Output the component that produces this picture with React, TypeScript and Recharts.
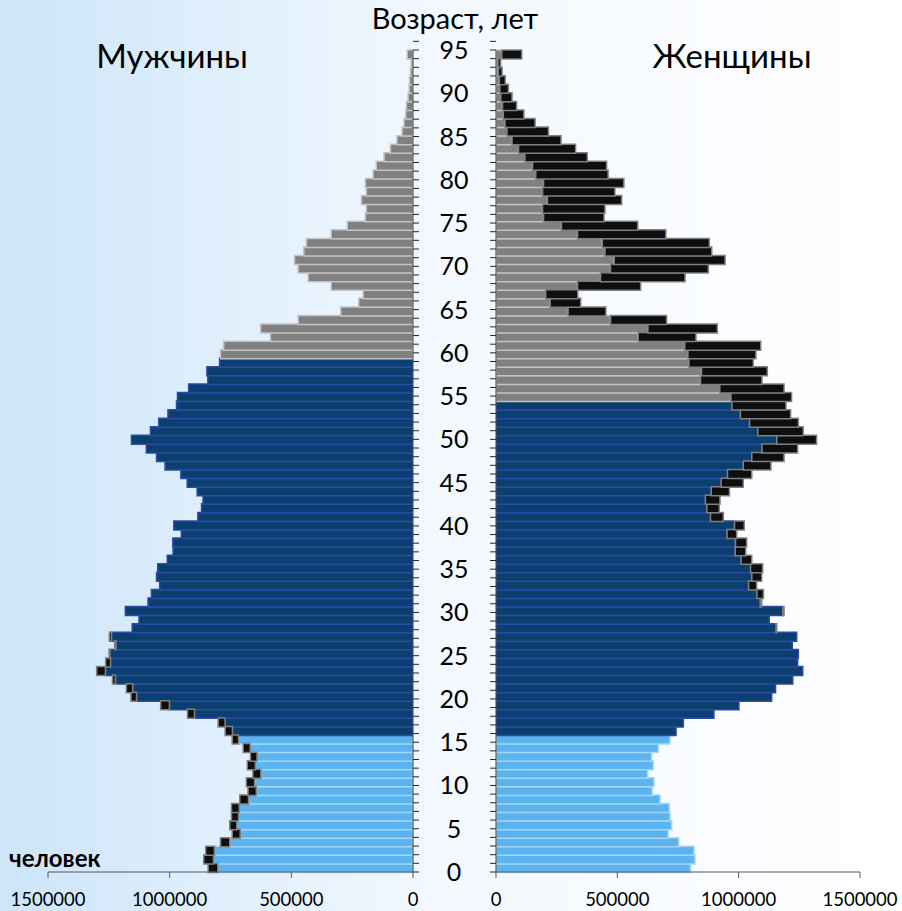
import { BarChart, Bar, XAxis, YAxis, Cell } from "recharts";

// ages 0..95, values in persons
const ages = Array.from({ length: 96 }, (_, i) => i);

const men = [
  842000, 860000, 852000, 791000, 743000, 753000, 746000, 746000, 712000, 678000,
  685000, 658000, 681000, 668000, 698000, 743000, 772000, 801000, 927000, 1037000,
  1159000, 1178000, 1235000, 1300000, 1263000, 1249000, 1226000, 1248000, 1154000, 1126000,
  1182000, 1089000, 1075000, 1041000, 1054000, 1049000, 1010000, 986000, 987000, 952000,
  983000, 884000, 869000, 863000, 887000, 928000, 954000, 1019000, 1054000, 1096000,
  1157000, 1079000, 1045000, 1007000, 972000, 968000, 922000, 843000, 847000, 795000,
  791000, 778000, 586000, 626000, 472000, 297000, 223000, 205000, 336000, 431000,
  472000, 487000, 449000, 438000, 336000, 270000, 196000, 192000, 212000, 192000,
  196000, 164000, 151000, 119000, 93000, 66000, 45000, 37000, 30000, 27000,
  20000, 16000, 14000, 10000, 8000, 24000,
];

const women = [
  802000, 820000, 816000, 753000, 710000, 724000, 717000, 714000, 676000, 644000,
  651000, 625000, 648000, 641000, 669000, 717000, 742000, 772000, 898000, 1001000,
  1136000, 1152000, 1223000, 1264000, 1243000, 1246000, 1221000, 1239000, 1157000, 1126000,
  1187000, 1095000, 1102000, 1074000, 1095000, 1099000, 1054000, 1029000, 1033000, 992000,
  1023000, 937000, 920000, 923000, 962000, 1019000, 1054000, 1133000, 1187000, 1243000,
  1321000, 1266000, 1246000, 1214000, 1195000, 1218000, 1187000, 1096000, 1118000, 1060000,
  1071000, 1091000, 824000, 912000, 703000, 453000, 349000, 337000, 596000, 779000,
  875000, 944000, 889000, 879000, 700000, 584000, 445000, 449000, 518000, 490000,
  527000, 462000, 456000, 376000, 328000, 268000, 216000, 161000, 115000, 85000,
  66000, 51000, 38000, 25000, 19000, 106000,
];

const xTicks = [0, 500000, 1000000, 1500000];
const ageTicks = Array.from({ length: 97 }, (_, i) => i);

const rows = ages.map((age, i) => ({
  age,
  menMain: Math.min(men[i], women[i]),
  menExtra: Math.max(0, men[i] - women[i]),
  womenMain: Math.min(men[i], women[i]),
  womenExtra: Math.max(0, women[i] - men[i]),
}));

const LIGHT = { fill: "#5bb3f0", stroke: "#a6d7f8" };
const DARK = { fill: "#0b3f6d", stroke: "#2e4aa6" };
const GRAY = { fill: "#808080", stroke: "#c4c4c4" };
const BLACK = { fill: "#0e0e0e", stroke: "#808080" };

const menColor = (age: number) => (age <= 15 ? LIGHT : age <= 59 ? DARK : GRAY);
const womenColor = (age: number) => (age <= 15 ? LIGHT : age <= 54 ? DARK : GRAY);

const FONT = "Lato, Carlito, Calibri, 'Open Sans', sans-serif";
const W = 902;
const H = 911;

const AgeLabel = (props: any) => {
  const { x, y, payload } = props;
  if (payload.value % 5 !== 0 || payload.value > 95) return <g />;
  return (
    <text x={x + 33} y={y} dy="0.36em" textAnchor="middle" fontSize={25} fontFamily={FONT} fill="#000">
      {payload.value}
    </text>
  );
};

const NoLabel = () => <g />;

const xTickStyle = { fontSize: 18.5, fill: "#000", fontFamily: FONT };

export default function App() {
  return (
    <div
      style={{
        position: "absolute",
        left: 0,
        top: 0,
        width: W,
        height: H,
        overflow: "hidden",
        background:
          "linear-gradient(90deg, #cce5f9 0%, #e0effc 25%, #f2f8fe 48%, #f8fbff 70%, #ffffff 100%)",
        fontFamily: FONT,
      }}
    >
      {/* left: men */}
      <div style={{ position: "absolute", left: 0, top: 0 }}>
        <BarChart
          width={W}
          height={H}
          data={rows}
          layout="vertical"
          barCategoryGap={0}
          margin={{ top: 50, right: 429, left: 48, bottom: 9 }}
        >
          <XAxis
            type="number"
            domain={[0, 1500000]}
            ticks={xTicks}
            reversed
            allowDataOverflow
            tick={xTickStyle}
            tickSize={6}
            tickMargin={15}
            height={30}
            axisLine={{ stroke: "#595959" }}
            tickLine={{ stroke: "#595959" }}
          />
          <YAxis yAxisId="cat" type="category" dataKey="age" orientation="left" width={0} reversed hide />
          <YAxis
            yAxisId="num"
            type="number"
            orientation="right"
            domain={[0, 96]}
            ticks={ageTicks}
            reversed
            interval={0}
            width={60}
            tickSize={6}
            tickMargin={2}
            tick={<AgeLabel />}
            axisLine={{ stroke: "#404040" }}
            tickLine={{ stroke: "#262626" }}
          />
          <Bar yAxisId="cat" dataKey="menMain" stackId="m" strokeWidth={1.5} isAnimationActive={false}>
            {rows.map((r) => (
              <Cell key={r.age} fill={menColor(r.age).fill} stroke={menColor(r.age).stroke} />
            ))}
          </Bar>
          <Bar
            yAxisId="cat"
            dataKey="menExtra"
            stackId="m"
            fill={BLACK.fill}
            stroke={BLACK.stroke}
            strokeWidth={1.5}
            isAnimationActive={false}
          />
        </BarChart>
      </div>

      {/* right: women */}
      <div style={{ position: "absolute", left: 0, top: 0 }}>
        <BarChart
          width={W}
          height={H}
          data={rows}
          layout="vertical"
          barCategoryGap={0}
          margin={{ top: 50, right: 42, left: 476, bottom: 9 }}
        >
          <XAxis
            type="number"
            domain={[0, 1500000]}
            ticks={xTicks}
            allowDataOverflow
            tick={xTickStyle}
            tickSize={6}
            tickMargin={15}
            height={30}
            axisLine={{ stroke: "#595959" }}
            tickLine={{ stroke: "#595959" }}
          />
          <YAxis yAxisId="cat" type="category" dataKey="age" orientation="right" width={0} reversed hide />
          <YAxis
            yAxisId="num"
            type="number"
            orientation="left"
            domain={[0, 96]}
            ticks={ageTicks}
            reversed
            interval={0}
            width={20}
            tickSize={6}
            tick={<NoLabel />}
            axisLine={{ stroke: "#404040" }}
            tickLine={{ stroke: "#262626" }}
          />
          <Bar yAxisId="cat" dataKey="womenMain" stackId="w" strokeWidth={1.5} isAnimationActive={false}>
            {rows.map((r) => (
              <Cell key={r.age} fill={womenColor(r.age).fill} stroke={womenColor(r.age).stroke} />
            ))}
          </Bar>
          <Bar
            yAxisId="cat"
            dataKey="womenExtra"
            stackId="w"
            fill={BLACK.fill}
            stroke={BLACK.stroke}
            strokeWidth={1.5}
            isAnimationActive={false}
          />
        </BarChart>
      </div>

      <div style={{ position: "absolute", left: 0, top: 0, width: W, height: H, pointerEvents: "none" }}>
        <svg width={W} height={H}>
          <text x={455} y={29} textAnchor="middle" fontSize={29} fontFamily={FONT} fill="#000">
            Возраст, лет
          </text>
          <text x={172} y={68} textAnchor="middle" fontSize={33} fontFamily={FONT} fill="#000">
            Мужчины
          </text>
          <text x={732} y={68} textAnchor="middle" fontSize={33} fontFamily={FONT} fill="#000">
            Женщины
          </text>
          <text x={9} y={867} fontSize={24} fontWeight="bold" fontFamily={FONT} fill="#000">
            человек
          </text>
        </svg>
      </div>
    </div>
  );
}
